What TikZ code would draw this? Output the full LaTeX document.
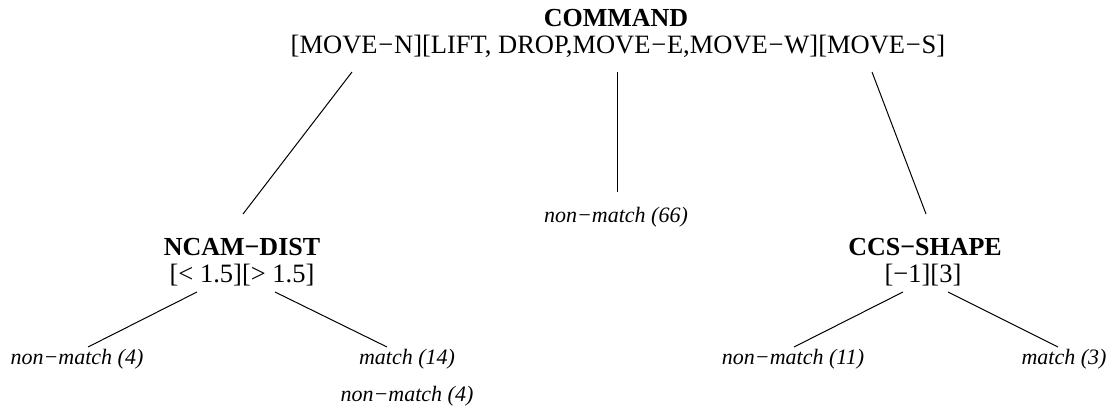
\documentclass[tikz,border=0pt]{standalone}
\usepackage{fontspec}
\setmainfont{Liberation Serif}
% minus sign between attribute words, with a little air round it
\newcommand\vminus{\kern0.8pt−\kern0.8pt}
\begin{document}
\begin{tikzpicture}[x=1pt,y=-1pt,
  attr/.style={font=\fontsize{26}{30}\selectfont\bfseries, inner sep=0pt, anchor=base},
  vals/.style={font=\fontsize{26.5}{30}\selectfont, inner sep=0pt, anchor=base},
  leaf/.style={font=\fontsize{22}{26}\selectfont\itshape, inner sep=0pt, anchor=base},
  edge/.style={line width=1pt}]
\useasboundingbox (0,0) rectangle (1118,411);

% root test
\node[attr] (cmd)  at (616,27) {COMMAND};
\node[vals] (cmdv) at (618,54) {[MOVE\vminus N][LIFT, DROP,MOVE\vminus E,MOVE\vminus W][MOVE\vminus S]};

% second-level tests and leaf
\node[attr] (ncam)  at (242,256) {NCAM−DIST};
\node[vals] (ncamv) at (242,283) {[< 1.5][> 1.5]};
\node[leaf] (nm66)  at (616,223) {non−match (66)};
\node[attr] (ccs)   at (925,256) {CCS−SHAPE};
\node[vals] (ccsv)  at (923,283) {[−1][3]};

% leaves
\node[leaf] (nm4)   at (77,364)  {non−match (4)};
\node[leaf] (m14)   at (407,364) {match (14)};
\node[leaf] (nm4b)  at (407,401) {non−match (4)};
\node[leaf] (nm11)  at (793,364) {non−match (11)};
\node[leaf] (m3)    at (1064,364) {match (3)};

% branch end points
\coordinate (cmd-l) at (352,72);
\coordinate (cmd-m) at (617,72);
\coordinate (cmd-r) at (872,72);
\coordinate (ncam-t) at (243,214);
\coordinate (nm66-t) at (617,192);
\coordinate (ccs-t) at (926,214);
\coordinate (ncam-l) at (197,292);
\coordinate (ncam-r) at (275,292);
\coordinate (nm4-t) at (88,347);
\coordinate (m14-t) at (387,347);
\coordinate (ccs-l) at (903,292);
\coordinate (ccs-r) at (948,292);
\coordinate (nm11-t) at (794,347);
\coordinate (m3-t) at (1058,347);

\draw[edge] (cmd-l) -- (ncam-t);
\draw[edge] (cmd-m) -- (nm66-t);
\draw[edge] (cmd-r) -- (ccs-t);
\draw[edge] (ncam-l) -- (nm4-t);
\draw[edge] (ncam-r) -- (m14-t);
\draw[edge] (ccs-l) -- (nm11-t);
\draw[edge] (ccs-r) -- (m3-t);
\end{tikzpicture}
\end{document}
